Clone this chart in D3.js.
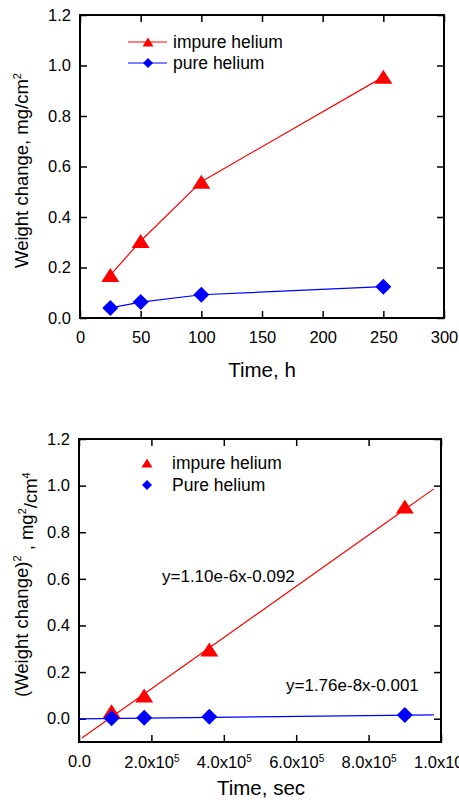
<!DOCTYPE html>
<html>
<head>
<meta charset="utf-8">
<script src="https://cdn.jsdelivr.net/npm/d3@7"></script>
<style>
  body { margin: 0; background: #fff; }
  svg { font-family: Arial, "Liberation Sans", sans-serif; }
  .tick text { font-size: 16.5px; fill: #000; }
  .tick line { stroke: #000; stroke-width: 1.5; }
</style>
</head>
<body>
<div id="chart"></div>
<script>
// top plot data (weight change vs hours)
var timeH = [25, 50, 100, 250];
var impureW = [0.17, 0.305, 0.54, 0.955];
var pureW = [0.04, 0.063, 0.092, 0.124];

// bottom plot data (squared weight change vs seconds)
var timeSec = [90000, 180000, 360000, 900000];
var impureW2 = [0.032, 0.1, 0.297, 0.91];
var pureW2 = [0.0016, 0.004, 0.0085, 0.016];

// linear fits as printed on the chart
var fitNames = ["y=1.10e-6x-0.092", "y=1.76e-8x-0.001"];
var fitSlope = [1.10e-6, 1.76e-8];
var fitIcpt = [-0.092, -0.001];
var fitRange = [[8000, 980000], [0, 980000]];

var yTicks = [0, 0.2, 0.4, 0.6, 0.8, 1.0, 1.2];
var xTicksH = [0, 50, 100, 150, 200, 250, 300];
var xTicksSec = [0, 200000, 400000, 600000, 800000, 1000000];
var xLabelsSec = [["0.0", ""], ["2.0x10", "5"], ["4.0x10", "5"], ["6.0x10", "5"], ["8.0x10", "5"], ["1.0x10", "6"]];

var legendNames = ["impure helium", "pure helium"];
var legendNames2 = ["impure helium", "Pure helium"];

var red = "#ff0000", blue = "#0000ff";

var svg = d3.select("#chart")
    .append("svg")
    .attr("width", 459)
    .attr("height", 807);

// origin style markers
function triangle(w, h) {
    return `M0,${-h / 2}L${w / 2},${h / 2}L${-w / 2},${h / 2}Z`;
}
function diamond(w) {
    return `M0,${-w / 2}L${w / 2},0L0,${w / 2}L${-w / 2},0Z`;
}

// frame + inward ticks on all four sides
function drawFrame(g, x, y, xt, yt, w, h) {
    g.append("g")
        .attr("transform", `translate(0,${h})`)
        .call(d3.axisBottom(x).tickValues(xt).tickSize(-7).tickPadding(13))
        .call(a => a.select(".domain").remove());
    g.append("g")
        .call(d3.axisLeft(y).tickValues(yt).tickSize(-7).tickPadding(9).tickFormat(d3.format(".1f")))
        .call(a => a.select(".domain").remove());
    g.append("g")
        .call(d3.axisTop(x).tickValues(xt).tickSize(-7).tickFormat(""))
        .call(a => a.select(".domain").remove());
    g.append("g")
        .attr("transform", `translate(${w},0)`)
        .call(d3.axisRight(y).tickValues(yt).tickSize(-7).tickFormat(""))
        .call(a => a.select(".domain").remove());
    g.append("rect")
        .attr("width", w)
        .attr("height", h)
        .attr("fill", "none")
        .attr("stroke", "#000")
        .attr("stroke-width", 2);
}

// ---------- top chart ----------
var w1 = 364, h1 = 303;
var top1 = svg.append("g").attr("transform", "translate(80,15)");
var x1 = d3.scaleLinear().domain([0, 300]).range([0, w1]);
var y1 = d3.scaleLinear().domain([0, 1.2]).range([h1, 0]);

drawFrame(top1, x1, y1, xTicksH, yTicks, w1, h1);

var line1 = d3.line().x(d => x1(d[0])).y(d => y1(d[1]));

top1.append("path")
    .datum(d3.zip(timeH, impureW))
    .attr("d", line1)
    .attr("fill", "none")
    .attr("stroke", red)
    .attr("stroke-width", 1.2);
top1.append("path")
    .datum(d3.zip(timeH, pureW))
    .attr("d", line1)
    .attr("fill", "none")
    .attr("stroke", blue)
    .attr("stroke-width", 1.2);

top1.selectAll(".tri")
    .data(d3.zip(timeH, impureW))
    .enter()
    .append("path")
    .attr("transform", d => `translate(${x1(d[0])},${y1(d[1])})`)
    .attr("d", triangle(18, 14))
    .attr("fill", red);
top1.selectAll(".dia")
    .data(d3.zip(timeH, pureW))
    .enter()
    .append("path")
    .attr("transform", d => `translate(${x1(d[0])},${y1(d[1])})`)
    .attr("d", diamond(16))
    .attr("fill", blue);

// legend top
var leg1 = svg.append("g").attr("transform", "translate(128,42)");
legendNames.forEach((name, i) => {
    var c = i == 0 ? red : blue;
    var row = leg1.append("g").attr("transform", `translate(0,${i * 21})`);
    row.append("line").attr("x1", 0).attr("x2", 39).attr("stroke", c).attr("stroke-width", 1.2);
    row.append("path")
        .attr("transform", "translate(20,0)")
        .attr("d", i == 0 ? triangle(11, 9) : diamond(10))
        .attr("fill", c);
    row.append("text")
        .attr("x", 45)
        .attr("y", 6)
        .attr("font-size", 17.5)
        .text(name);
});

// axis titles top
svg.append("text")
    .attr("x", 262)
    .attr("y", 377)
    .attr("text-anchor", "middle")
    .attr("font-size", 20.5)
    .text("Time, h");

var yt1 = svg.append("text")
    .attr("transform", "translate(28,268) rotate(-90)")
    .attr("font-size", 18.5);
yt1.append("tspan").text("Weight change, mg/cm");
yt1.append("tspan").attr("dy", "-0.6em").attr("font-size", 11).text("2");

// ---------- bottom chart ----------
var w2 = 362, h2 = 303;
var bot = svg.append("g").attr("transform", "translate(79,439)");
var x2 = d3.scaleLinear().domain([0, 1000000]).range([0, w2]);
var y2 = d3.scaleLinear().domain([-0.1, 1.2]).range([h2, 0]);

drawFrame(bot, x2, y2, xTicksSec, yTicks, w2, h2);

// swap bottom tick labels for the "x10^n" ones (the last one runs off the edge like the original)
bot.select("g").selectAll(".tick text")
    .each(function (d, i) {
        var t = d3.select(this).text("");
        t.append("tspan").text(xLabelsSec[i][0]);
        if (xLabelsSec[i][1]) {
            t.attr("dy", "0.8em");
            t.append("tspan").attr("dy", "-0.6em").attr("font-size", 10).text(xLabelsSec[i][1]);
        }
    });

// fit lines
var fitColors = [red, blue];
fitSlope.forEach((m, i) => {
    bot.append("line")
        .attr("x1", x2(fitRange[i][0]))
        .attr("y1", y2(m * fitRange[i][0] + fitIcpt[i]))
        .attr("x2", x2(fitRange[i][1]))
        .attr("y2", y2(m * fitRange[i][1] + fitIcpt[i]))
        .attr("stroke", fitColors[i])
        .attr("stroke-width", 1.2);
});

bot.selectAll(".tri")
    .data(d3.zip(timeSec, impureW2))
    .enter()
    .append("path")
    .attr("transform", d => `translate(${x2(d[0])},${y2(d[1])})`)
    .attr("d", triangle(18, 14))
    .attr("fill", red);
bot.selectAll(".dia")
    .data(d3.zip(timeSec, pureW2))
    .enter()
    .append("path")
    .attr("transform", d => `translate(${x2(d[0])},${y2(d[1])})`)
    .attr("d", diamond(16))
    .attr("fill", blue);

// equation labels
svg.append("text").attr("x", 162).attr("y", 582).attr("font-size", 17).text(fitNames[0]);
svg.append("text").attr("x", 286).attr("y", 691).attr("font-size", 17).text(fitNames[1]);

// legend bottom (markers only)
var leg2 = svg.append("g").attr("transform", "translate(147,463)");
legendNames2.forEach((name, i) => {
    var c = i == 0 ? red : blue;
    var row = leg2.append("g").attr("transform", `translate(0,${i * 22})`);
    row.append("path")
        .attr("d", i == 0 ? triangle(11, 9) : diamond(10))
        .attr("fill", c);
    row.append("text")
        .attr("x", 25)
        .attr("y", 6)
        .attr("font-size", 17.5)
        .text(name);
});

svg.append("text")
    .attr("x", 261)
    .attr("y", 795)
    .attr("text-anchor", "middle")
    .attr("font-size", 20.5)
    .text("Time, sec");

var yt2 = svg.append("text")
    .attr("transform", "translate(28,697) rotate(-90)")
    .attr("font-size", 18.5);
yt2.append("tspan").text("(Weight change)");
yt2.append("tspan").attr("dy", "-0.6em").attr("font-size", 11).text("2");
yt2.append("tspan").attr("dy", "0.6em").text(" , mg");
yt2.append("tspan").attr("dy", "-0.6em").attr("font-size", 11).text("2");
yt2.append("tspan").attr("dy", "0.6em").text("/cm");
yt2.append("tspan").attr("dy", "-0.6em").attr("font-size", 11).text("4");
</script>
</body>
</html>
